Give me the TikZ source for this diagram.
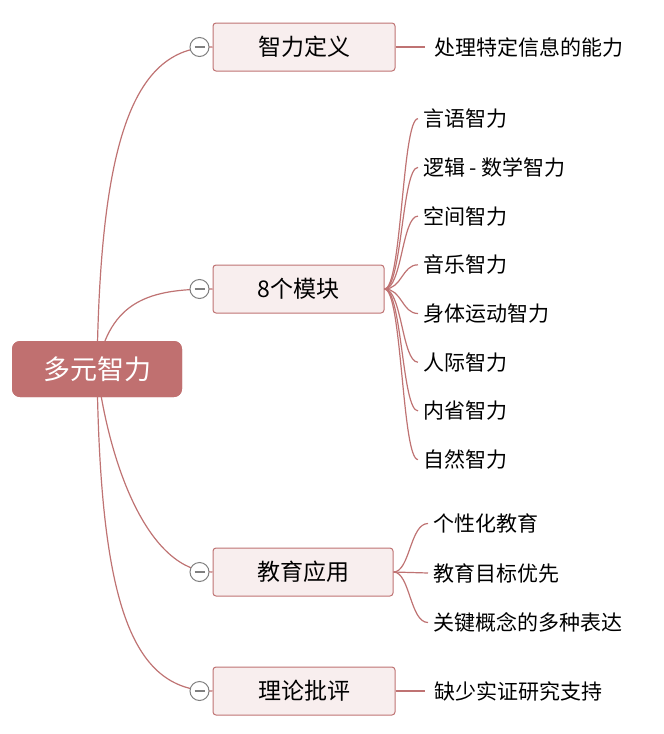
\documentclass[tikz,border=0pt]{standalone}
\usepackage{fontspec}
\setmainfont{Noto Sans CJK SC}
\definecolor{rootred}{HTML}{C07070}
\definecolor{linered}{HTML}{BF7373}
\definecolor{boxpink}{HTML}{F8EEEE}
\usetikzlibrary{positioning}
\begin{document}
\begin{tikzpicture}[x=1pt,y=-1pt,
  rootbox/.style={rounded corners=8pt,fill=rootred,text=white,font=\fontsize{27}{30}\selectfont,minimum width=170pt,minimum height=56pt},
  branchbox/.style={rounded corners=3pt,draw=linered,line width=1pt,fill=boxpink,font=\fontsize{23}{27}\selectfont,minimum height=48pt,inner xsep=0pt},
  leaf/.style={anchor=west,font=\fontsize{21}{25}\selectfont,inner sep=0pt},
  link/.style={draw=linered,line width=1.2pt},
  toggle/.style={circle,draw=gray,fill=white,line width=1pt,minimum size=19pt,inner sep=0pt}
]
\useasboundingbox (0,0) rectangle (664,734);
% root
\node[rootbox] (root) at (97,369) {多元智力};
% branches
\node[branchbox,minimum width=182pt] (def) at (304,47) {智力定义};
\node[branchbox,minimum width=171pt] (mod) at (298.5,289) {8个模块};
\node[branchbox,minimum width=180pt] (edu) at (303,572) {教育应用};
\node[branchbox,minimum width=182pt] (cri) at (304,691) {理论批评};
% root links
\draw[link] (97,369) .. controls (100,150) and (130,47) .. (def.west);
\draw[link] (97,369) .. controls (110,300) and (150,289) .. (mod.west);
\draw[link] (97,369) .. controls (110,470) and (150,572) .. (edu.west);
\draw[link] (97,369) .. controls (100,600) and (130,691) .. (cri.west);
\node[rootbox] at (root) {多元智力};
\foreach \b in {def,mod,edu,cri}{
  \node[toggle] (t\b) at ([xshift=-13pt]\b.west) {};
  \draw[gray,line width=1.2pt] ([xshift=-5pt]t\b.center) -- ([xshift=5pt]t\b.center);
}
% leaves
\node[leaf] (d1) at (434,47) {处理特定信息的能力};
\draw[link] (def.east) -- ([xshift=-9pt]d1.west);
\foreach \t [count=\i] in {言语智力,逻辑 - 数学智力,空间智力,音乐智力,身体运动智力,人际智力,内省智力,自然智力}{
  \node[leaf] (m\i) at (423,70+\i*48.7) {\t};
  \draw[link] (mod.east) .. controls (402,289) and (402,0|-m\i.west) .. ([xshift=-5pt]m\i.west);
}
\foreach \t [count=\i] in {个性化教育,教育目标优先,关键概念的多种表达}{
  \node[leaf] (e\i) at (433,474+\i*49.5) {\t};
  \draw[link] (edu.east) .. controls (410,572) and (410,0|-e\i.west) .. ([xshift=-5pt]e\i.west);
}
\node[leaf] (c1) at (434,691) {缺少实证研究支持};
\draw[link] (cri.east) -- ([xshift=-9pt]c1.west);
\end{tikzpicture}
\end{document}
